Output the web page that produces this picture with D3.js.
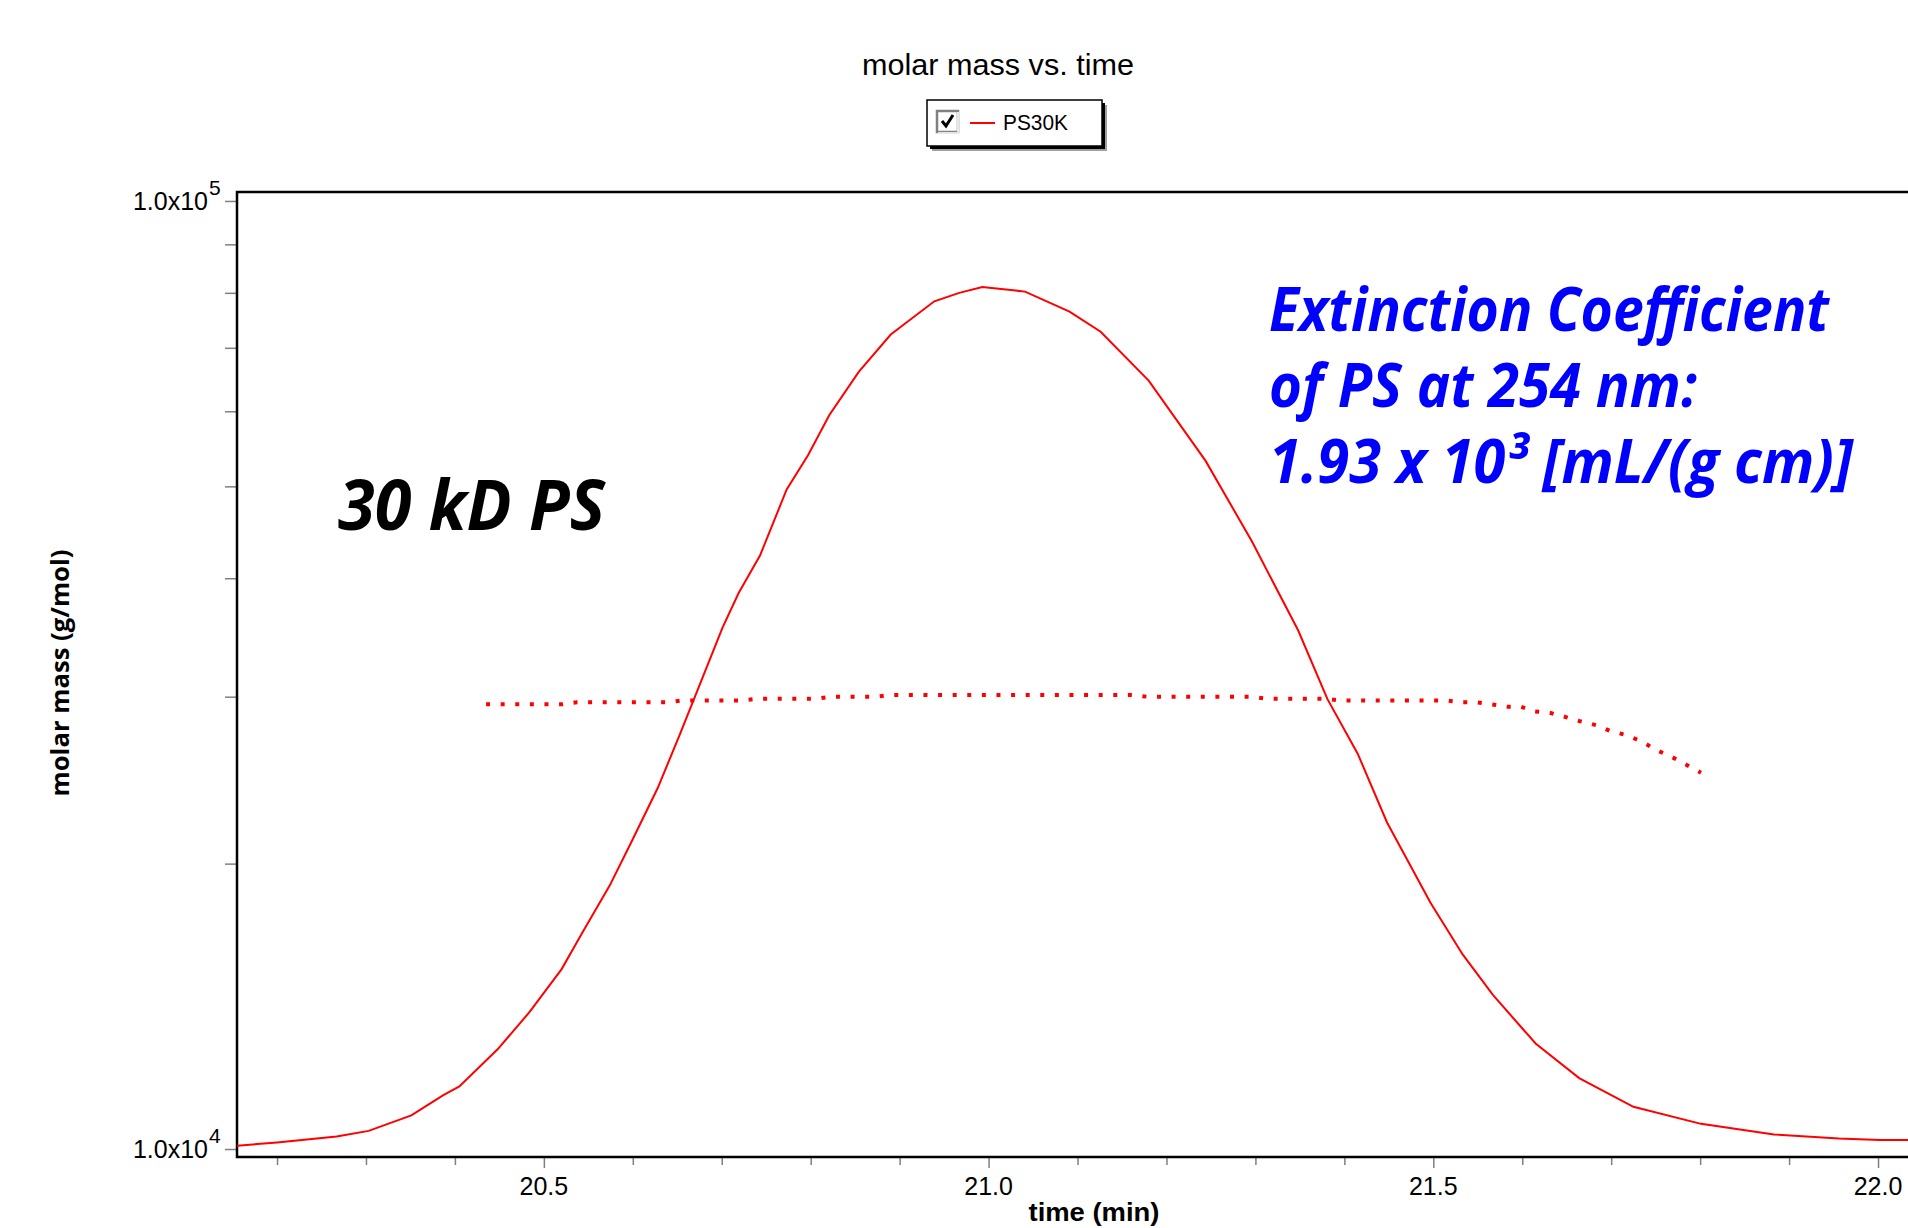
<!DOCTYPE html>
<html>
<head>
<meta charset="utf-8">
<script src="https://cdn.jsdelivr.net/npm/d3@7"></script>
<style>
  body { margin: 0; background: #fff; }
  svg { display: block; }
  .tick line { stroke: #808080; stroke-width: 1.5; }
</style>
</head>
<body>
<div id="chart"></div>
<script>
// solid trace: time (min) vs molar mass (g/mol)
var peakTime = [20.155, 20.200, 20.267, 20.303, 20.351, 20.387, 20.405, 20.448, 20.484, 20.520,
  20.544, 20.574, 20.598, 20.628, 20.652, 20.670, 20.701, 20.719, 20.743, 20.773,
  20.797, 20.821, 20.854, 20.890, 20.939, 20.967, 20.993, 21.041, 21.091, 21.126,
  21.180, 21.244, 21.296, 21.348, 21.381, 21.415, 21.448, 21.497, 21.533, 21.567,
  21.615, 21.664, 21.725, 21.801, 21.883, 21.956, 22.002, 22.034];
var peakMass = [10080, 10160, 10310, 10450, 10850, 11400, 11640, 12740, 13950, 15480,
  16960, 18960, 21040, 24030, 27240, 30030, 35500, 38590, 42260, 49620,
  53930, 59470, 66020, 72300, 78370, 80000, 81140, 80240, 76420, 72780,
  64650, 53190, 43750, 35250, 29820, 26120, 22100, 18180, 16040, 14540,
  12920, 11880, 11080, 10630, 10360, 10260, 10220, 10220];

// dotted trace
var dotTime = [20.435, 20.521, 20.537, 20.638, 20.655, 20.721, 20.740, 20.807, 20.823, 20.874,
  20.890, 21.160, 21.178, 21.296, 21.313, 21.380, 21.396, 21.515, 21.532, 21.548,
  21.565, 21.583, 21.598, 21.614, 21.632, 21.649, 21.665, 21.684, 21.700, 21.717,
  21.735, 21.750, 21.767, 21.783, 21.801];
var dotMass = [29450, 29450, 29600, 29600, 29720, 29720, 29850, 29850, 30000, 30000,
  30120, 30120, 30000, 30000, 29850, 29850, 29720, 29720, 29600, 29600,
  29450, 29280, 29280, 28950, 28830, 28550, 28260, 27980, 27580, 27330,
  26890, 26370, 25950, 25470, 24940];

var xMajorTicks = [20.5, 21.0, 21.5, 22.0];
var xTickLabels = ["20.5", "21.0", "21.5", "22.0"];
var xMinorTicks = [20.2, 20.3, 20.4, 20.6, 20.7, 20.8, 20.9, 21.1, 21.2, 21.3, 21.4,
  21.6, 21.7, 21.8, 21.9];
var yTicks = [10000, 20000, 30000, 40000, 50000, 60000, 70000, 80000, 90000, 100000];
var yLabelValues = [10000, 100000];
var yLabelExp = ["4", "5"];

var svgWidth = 1908;
var svgHeight = 1228;
var margin = { top: 192, right: 0, bottom: 71, left: 237 };
var width = svgWidth - margin.left - margin.right;
var height = svgHeight - margin.top - margin.bottom;

var svg = d3.select("#chart").append("svg")
  .attr("width", svgWidth)
  .attr("height", svgHeight);

var x = d3.scaleLinear().domain([20.155, 22.0337]).range([0, width]);
var y = d3.scaleLog().domain([9808, 102200]).range([height, 0]);

var chartGroup = svg.append("g")
  .attr("transform", `translate(${margin.left}, ${margin.top})`);

svg.append("defs").append("clipPath").attr("id", "clip")
  .append("rect").attr("x", 0).attr("y", 0).attr("width", width).attr("height", height);

// title
svg.append("text")
  .attr("x", 998).attr("y", 75)
  .attr("text-anchor", "middle")
  .style("font-family", "Liberation Sans, Arial, sans-serif")
  .style("font-size", "29px")
  .attr("textLength", 272)
  .attr("lengthAdjust", "spacingAndGlyphs")
  .text("molar mass vs. time");

// legend box with drop shadow
var legend = svg.append("g").attr("transform", "translate(927, 100)");
legend.append("rect").attr("x", 5).attr("y", 5).attr("width", 175).attr("height", 46).attr("fill", "#a0a0a0");
legend.append("rect").attr("x", 3).attr("y", 3).attr("width", 175).attr("height", 46).attr("fill", "#000");
legend.append("rect").attr("x", 0).attr("y", 0).attr("width", 175).attr("height", 46)
  .attr("fill", "#fff").attr("stroke", "#000").attr("stroke-width", 1.5);
legend.append("rect").attr("x", 10).attr("y", 11).attr("width", 21).attr("height", 21)
  .attr("fill", "#fff").attr("stroke", "#808080").attr("stroke-width", 2.5);
legend.append("path").attr("d", "M31,33 L31,12 M11,33 L31,33").attr("stroke", "#e8e6e0").attr("stroke-width", 2).attr("fill", "none");
legend.append("path").attr("d", "M15,21 L19,26 L26,15").attr("stroke", "#000").attr("stroke-width", 3).attr("fill", "none");
legend.append("line").attr("x1", 43).attr("x2", 68).attr("y1", 23).attr("y2", 23)
  .attr("stroke", "#ff0000").attr("stroke-width", 2);
legend.append("text").attr("x", 76).attr("y", 30)
  .style("font-family", "Liberation Sans, Arial, sans-serif")
  .style("font-size", "22px")
  .attr("textLength", 65)
  .attr("lengthAdjust", "spacingAndGlyphs")
  .text("PS30K");

// axes
var bottomAxis = d3.axisBottom(x).tickValues(xMajorTicks).tickSize(11).tickFormat("");
var minorAxis = d3.axisBottom(x).tickValues(xMinorTicks).tickSize(8).tickFormat("");
var leftAxis = d3.axisLeft(y).tickValues(yTicks).tickSize(12).tickFormat("");

chartGroup.append("g").attr("transform", `translate(0, ${height})`).call(minorAxis)
  .select(".domain").remove();
chartGroup.append("g").attr("transform", `translate(0, ${height})`).call(bottomAxis)
  .select(".domain").remove();
chartGroup.append("g").call(leftAxis).select(".domain").remove();

// frame
chartGroup.append("path")
  .attr("d", `M${width + 5},0 L0,0 L0,${height} L${width + 5},${height}`)
  .attr("fill", "none").attr("stroke", "#000").attr("stroke-width", 2.5);

chartGroup.selectAll(".xlab")
  .data(xMajorTicks)
  .enter().append("text")
  .attr("class", "xlab")
  .attr("x", d => x(d))
  .attr("y", height + 38)
  .attr("text-anchor", "middle")
  .style("font-family", "Liberation Sans, Arial, sans-serif")
  .style("font-size", "25px")
  .text((d, i) => xTickLabels[i]);

chartGroup.selectAll(".ylab")
  .data(yLabelValues)
  .enter().append("text")
  .attr("class", "ylab")
  .attr("x", -29)
  .attr("y", d => y(d) + 9)
  .attr("text-anchor", "end")
  .style("font-family", "Liberation Sans, Arial, sans-serif")
  .style("font-size", "25px")
  .text("1.0x10");

chartGroup.selectAll(".yexp")
  .data(yLabelValues)
  .enter().append("text")
  .attr("class", "yexp")
  .attr("x", -28)
  .attr("y", d => y(d) - 6)
  .style("font-family", "Liberation Sans, Arial, sans-serif")
  .style("font-size", "21px")
  .text((d, i) => yLabelExp[i]);

// axis titles
svg.append("text")
  .attr("transform", "translate(69, 673) rotate(-90)")
  .attr("text-anchor", "middle")
  .style("font-family", "Open Sans, sans-serif")
  .style("font-weight", "bold")
  .style("font-size", "25px")
  .attr("textLength", 247)
  .attr("lengthAdjust", "spacingAndGlyphs")
  .text("molar mass (g/mol)");

svg.append("text")
  .attr("x", 1094).attr("y", 1221)
  .attr("text-anchor", "middle")
  .style("font-family", "Liberation Sans, Arial, sans-serif")
  .style("font-weight", "bold")
  .style("font-size", "26px")
  .attr("textLength", 131)
  .attr("lengthAdjust", "spacingAndGlyphs")
  .text("time (min)");

// traces
var line = d3.line().x(d => x(d[0])).y(d => y(d[1]));

chartGroup.append("path")
  .datum(peakTime.map((t, i) => [t, peakMass[i]]))
  .attr("clip-path", "url(#clip)")
  .attr("d", line)
  .attr("fill", "none")
  .attr("stroke", "#ff0000")
  .attr("stroke-width", 2);

chartGroup.append("path")
  .datum(dotTime.map((t, i) => [t, dotMass[i]]))
  .attr("d", line)
  .attr("fill", "none")
  .attr("stroke", "#ff0000")
  .attr("stroke-width", 4)
  .attr("stroke-dasharray", "4,10.6");

// annotations
svg.append("text")
  .attr("x", 338).attr("y", 530)
  .style("font-family", "Open Sans, sans-serif")
  .style("font-weight", "bold")
  .style("font-style", "italic")
  .style("font-size", "70px")
  .attr("textLength", 267)
  .attr("lengthAdjust", "spacingAndGlyphs")
  .text("30 kD PS");

var note = ["Extinction Coefficient", "of PS at 254 nm:", "1.93 x 10\u00b3 [mL/(g cm)]"];
var noteWidths = [560, 428, 584];
svg.selectAll(".note")
  .data(note)
  .enter().append("text")
  .attr("class", "note")
  .attr("x", 1269)
  .attr("y", (d, i) => 331 + i * 76)
  .style("font-family", "Open Sans, sans-serif")
  .style("font-weight", "bold")
  .style("font-style", "italic")
  .style("font-size", "60px")
  .style("fill", "#0000ff")
  .attr("textLength", (d, i) => noteWidths[i])
  .attr("lengthAdjust", "spacingAndGlyphs")
  .text(d => d);
</script>
</body>
</html>
